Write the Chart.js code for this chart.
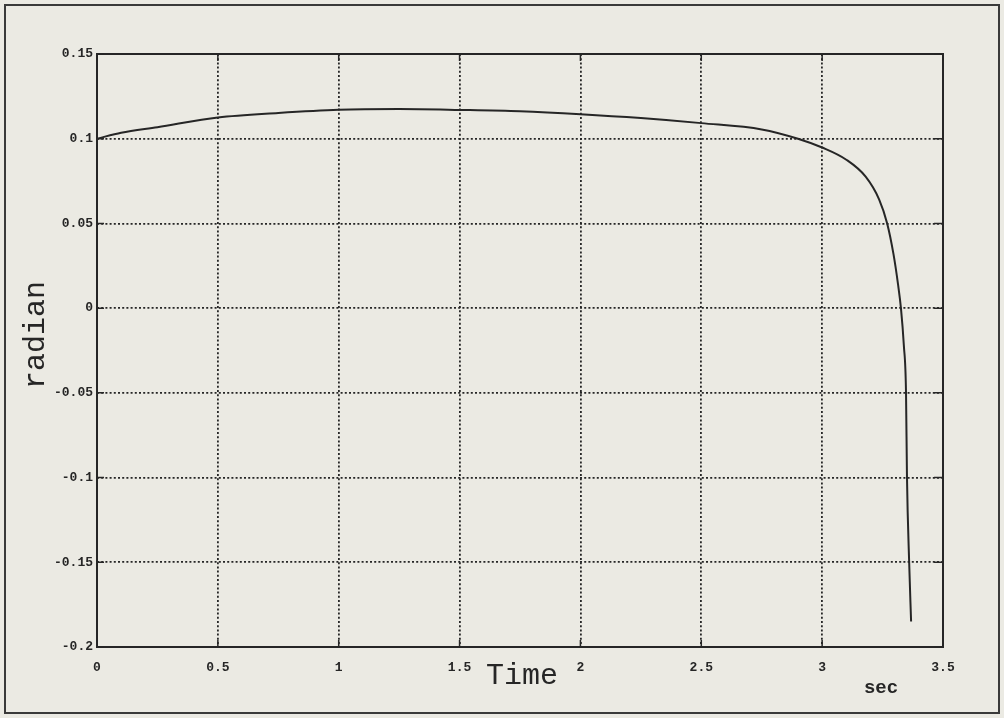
<!DOCTYPE html>
<html>
<head>
<meta charset="utf-8">
<script src="https://cdn.jsdelivr.net/npm/chart.js@4/dist/chart.umd.min.js"></script>
<style>
  html,body{margin:0;padding:0;background:#ebeae3;}
  #c{display:block;}
</style>
</head>
<body>
<canvas id="c" width="1004" height="718"></canvas>
<script>
/* ---------- data ---------- */
const timeSec = [0, 0.1, 0.25, 0.5, 0.75, 1.0, 1.25, 1.5, 1.75, 2.0, 2.25, 2.5, 2.75, 2.9,
                 3.0, 3.1, 3.18, 3.236, 3.269, 3.295, 3.314, 3.326, 3.338, 3.347, 3.351, 3.36, 3.368];
const angleRad = [0.1, 0.1035, 0.1068, 0.1125, 0.1152, 0.1171, 0.1175, 0.117, 0.1162, 0.1145, 0.1122, 0.1092, 0.1055, 0.1,
                  0.0948, 0.0876, 0.0776, 0.0641, 0.05, 0.032, 0.014, 0, -0.022, -0.05, -0.1, -0.15, -0.185];
const xTicks = [0, 0.5, 1, 1.5, 2, 2.5, 3, 3.5];
const yTicks = [0.15, 0.1, 0.05, 0, -0.05, -0.1, -0.15, -0.2];

const INK = '#262626';
const MONO = '"Liberation Mono", "DejaVu Sans Mono", monospace';

/* ---------- frame, inner ticks and titles ---------- */
const decor = {
  id: 'decor',
  afterDraw(chart){
    const {ctx, chartArea: a, scales} = chart;
    ctx.save();
    // outer frame
    ctx.strokeStyle = '#3a3a3a'; ctx.lineWidth = 2;
    ctx.strokeRect(5, 5, 994, 708);
    // plot box
    ctx.strokeStyle = INK; ctx.lineWidth = 2;
    ctx.strokeRect(a.left, a.top, a.right - a.left, a.bottom - a.top);
    // short solid ticks inside the box
    ctx.lineWidth = 1.5;
    xTicks.forEach(v=>{
      const x = scales.x.getPixelForValue(v);
      ctx.beginPath(); ctx.moveTo(x, a.bottom); ctx.lineTo(x, a.bottom - 7);
      ctx.moveTo(x, a.top); ctx.lineTo(x, a.top + 7); ctx.stroke();
    });
    yTicks.forEach(v=>{
      const y = scales.y.getPixelForValue(v);
      ctx.beginPath(); ctx.moveTo(a.right, y); ctx.lineTo(a.right - 9, y);
      ctx.moveTo(a.left, y); ctx.lineTo(a.left + 7, y); ctx.stroke();
    });
    // titles
    ctx.fillStyle = INK;
    ctx.textAlign = 'center'; ctx.textBaseline = 'middle';
    ctx.font = '30px ' + MONO;
    ctx.fillText('Time', 522, 676);
    ctx.save();
    ctx.translate(36, 335); ctx.rotate(-Math.PI/2);
    ctx.fillText('radian', 0, 0);
    ctx.restore();
    ctx.font = 'bold 19px ' + MONO;
    ctx.fillText('sec', 881, 688);
    ctx.restore();
  }
};

new Chart(document.getElementById('c'), {
  type: 'line',
  data: {
    datasets: [{
      data: timeSec.map((t,i)=>({x:t, y:angleRad[i]})),
      borderColor: INK, borderWidth: 2,
      pointRadius: 0, fill: false,
      cubicInterpolationMode: 'monotone'
    }]
  },
  options: {
    responsive: false, animation: false,
    layout: {padding: {left: 0, top: 54, right: 61, bottom: 41}},
    plugins: {legend: {display: false}, tooltip: {enabled: false}},
    scales: {
      x: {
        type: 'linear', min: 0, max: 3.5,
        afterBuildTicks: s=>{ s.ticks = xTicks.map(v=>({value:v})); },
        afterFit: s=>{ s.height = 30; },
        border: {display: false, dash: [2, 2.2]},
        grid: {color: INK, lineWidth: 1.8, drawTicks: false},
        ticks: {color: INK, padding: 13, font: {family: MONO, size: 13, weight: 'bold'},
                callback: v=>String(v), maxRotation: 0, autoSkip: false}
      },
      y: {
        type: 'linear', min: -0.2, max: 0.15,
        afterBuildTicks: s=>{ s.ticks = yTicks.map(v=>({value:v})); },
        afterFit: s=>{ s.width = 97; },
        border: {display: false, dash: [2, 2.2]},
        grid: {color: INK, lineWidth: 1.8, drawTicks: false},
        ticks: {color: INK, padding: 4, font: {family: MONO, size: 13, weight: 'bold'},
                callback: v=>String(v), autoSkip: false}
      }
    }
  },
  plugins: [decor]
});
</script>
</body>
</html>
